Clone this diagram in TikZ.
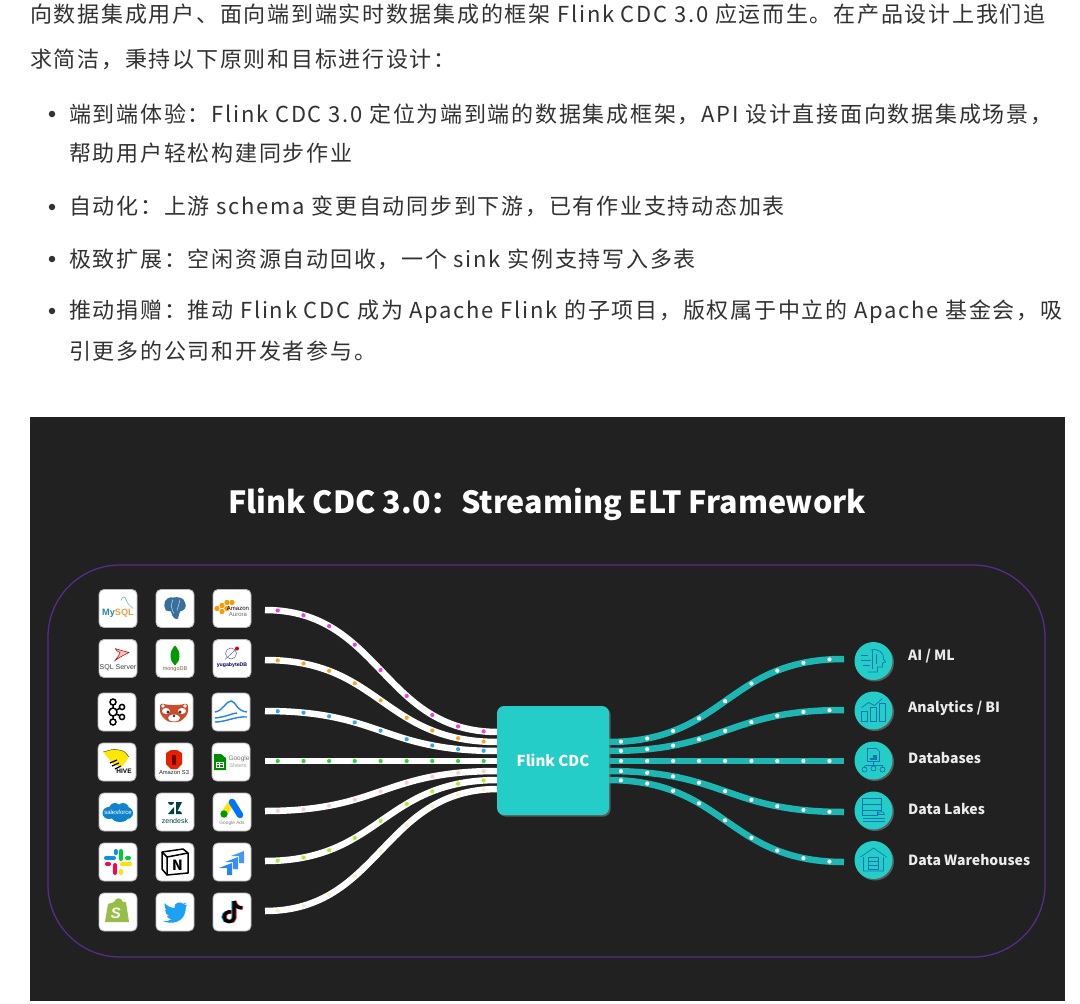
\documentclass[tikz,border=0pt]{standalone}
\usepackage{fontspec}
\setmainfont{Noto Sans CJK SC}
\newfontfamily\bodyfont[LetterSpace=7.9]{Noto Sans CJK SC}
\newfontfamily\titlefont{Noto Sans CJK SC}
\newfontfamily\logofont{Liberation Sans}
\usetikzlibrary{arrows.meta, positioning, shapes.geometric, calc, shadows}
\definecolor{panelbg}{RGB}{33,33,33}
\definecolor{ringcolor}{RGB}{86,44,138}
\definecolor{flinkcolor}{RGB}{36,205,200}
\definecolor{sinkcolor}{RGB}{30,182,178}
\definecolor{iconcolor}{RGB}{18,118,178}
\definecolor{bodycolor}{RGB}{50,50,50}
\definecolor{jirablue}{RGB}{38,132,245}
\definecolor{shopgreen}{RGB}{149,191,71}
\definecolor{birdblue}{RGB}{29,161,242}
\definecolor{pandared}{RGB}{205,75,45}
\definecolor{wavecolor}{RGB}{30,130,240}
\newcommand{\fsz}[1]{\fontsize{#1}{#1}\selectfont}
\tikzset{
  bodytext/.style = {anchor=west, inner sep=0pt, text=bodycolor, font=\bodyfont\fsz{22}},
  bullet/.style   = {circle, fill=bodycolor, inner sep=0pt, minimum size=6.5pt},
  logo/.style     = {draw=gray!55, line width=.9pt, fill=white, rounded corners=5pt,
                     minimum size=38pt, inner sep=0pt},
  logotext/.style = {inner sep=0pt, font=\logofont\fsz{5}, text=black!70},
  stream/.style   = {draw=white, line width=6.5pt},
  sink/.style     = {draw=sinkcolor, line width=6.5pt},
  flowdot/.style  = {circle, inner sep=0pt, minimum size=4.2pt},
  target/.style   = {circle, fill=flinkcolor, minimum size=38pt, inner sep=0pt,
                     drop shadow={shadow xshift=1.5pt, shadow yshift=-1.5pt, opacity=.6}},
  targetlbl/.style= {anchor=west, inner sep=0pt, text=white!92!black, font=\titlefont\bfseries\fsz{14}},
  icon/.style     = {draw=iconcolor, line width=.7pt},
}
\begin{document}
\begin{tikzpicture}[x=1pt, y=-1pt]
  \useasboundingbox (0,0) rectangle (1080,1004);
  \fill[white] (0,0) rectangle (1080,1004);

  % article text
  \node[bodytext] (line1) at (30,14.5) {向数据集成用户、面向端到端实时数据集成的框架 Flink CDC 3.0 应运而生。在产品设计上我们追};
  \node[bodytext] (line2) at (30,59.5) {求简洁，秉持以下原则和目标进行设计：};
  \node[bodytext] (line3) at (69,114.5) {端到端体验：Flink CDC 3.0 定位为端到端的数据集成框架，API 设计直接面向数据集成场景，};
  \node[bodytext] (line4) at (69,153.5) {帮助用户轻松构建同步作业};
  \node[bodytext] (line5) at (69,206.5) {自动化：上游 schema 变更自动同步到下游，已有作业支持动态加表};
  \node[bodytext] (line6) at (69,259.5) {极致扩展：空闲资源自动回收，一个 sink 实例支持写入多表};
  \node[bodytext] (line7) at (69,311.5) {推动捐赠：推动 Flink CDC 成为 Apache Flink 的子项目，版权属于中立的 Apache 基金会，吸};
  \node[bodytext] (line8) at (69,351.5) {引更多的公司和开发者参与。};
  \foreach \i/\y in {1/114, 2/207, 3/259, 4/311} {
    \node[bullet] (bullet\i) at (52,\y) {};
  }

  % dark panel
  \fill[panelbg] (30,417) rectangle (1065,1001);
  \node[inner sep=0pt, text=white, font=\titlefont\bfseries\fsz{30.5}] (title) at (547,504.5) {Flink CDC 3.0：Streaming ELT Framework};
  \draw[ringcolor, line width=1.3pt, rounded corners=72pt] (48,565) rectangle (1045,957);

  % streams into the box
  \foreach \i/\ys/\ye/\col in {1/610/732/{rgb,255:red,240;green,58;blue,232},
                               2/660/742/{rgb,255:red,245;green,166;blue,35},
                               3/711/751/{rgb,255:red,47;green,168;blue,240},
                               4/761/761/{rgb,255:red,47;green,213;blue,58},
                               5/811/771/{rgb,255:red,252;green,205;blue,208},
                               6/861/780/{rgb,255:red,168;green,240;blue,48},
                               7/911/789/{rgb,255:red,253;green,236;blue,200}} {
    \coordinate (src\i) at (265,\ys);
    \coordinate (in\i) at (498,\ye);
    \draw[stream] (src\i) .. controls +(116,0) and +(-116,0) .. (in\i)
      \foreach \p [count=\k] in {.038,.125,.228,.352,.495,.64,.765,.87,.957} {
        node[flowdot, fill=\col, pos=\p, name=dot\i-\k] {}
      };
  }

  % streams out of the box
  \foreach \i/\ys/\ye in {1/742/659, 2/751/710, 3/761/761, 4/771/812, 5/780/862} {
    \coordinate (out\i) at (608,\ys);
    \coordinate (dst\i) at (844,\ye);
    \draw[sink] (out\i) .. controls +(118,0) and +(-118,0) .. (dst\i)
      \foreach \p [count=\k] in {.038,.125,.228,.352,.495,.64,.765,.87,.957} {
        node[flowdot, fill=white, pos=\p, name=sdot\i-\k] {}
      };
  }

  \node[fill=flinkcolor, rounded corners=7pt, minimum width=112pt, minimum height=109pt, inner sep=0pt,
        text=white, font=\titlefont\bfseries\fsz{15},
        drop shadow={shadow xshift=1.5pt, shadow yshift=-1.5pt, opacity=.6}] (flink) at (553,760.5) {Flink CDC};

  % source logos
  \node[logo] (mysql) at (118,608.5) {};
  \node[logo] (pgsql) at (175,608.5) {};
  \node[logo] (aurora) at (232,608.5) {};
  \node[logo] (sqlserver) at (118,658.5) {};
  \node[logo] (mongo) at (175,658.5) {};
  \node[logo] (yuga) at (232,658.5) {};
  \node[logo] (kafka) at (117,712) {};
  \node[logo] (panda) at (174,712) {};
  \node[logo] (wave) at (231,712) {};
  \node[logo] (hive) at (117,762) {};
  \node[logo] (sthree) at (174,762) {};
  \node[logo] (sheets) at (231,762) {};
  \node[logo] (sforce) at (118,812) {};
  \node[logo] (zendesk) at (175,812) {};
  \node[logo] (gads) at (232,812) {};
  \node[logo] (slack) at (118,862) {};
  \node[logo] (notion) at (175,862) {};
  \node[logo] (jira) at (232,862) {};
  \node[logo] (shopify) at (118,912) {};
  \node[logo] (twitter) at (175,912) {};
  \node[logo] (tiktok) at (232,912) {};

  % mysql
  \begin{scope}[shift={(mysql.center)}]
    \draw[cyan!50!gray, line width=.5pt] (3,-8) .. controls (4,-12) and (7,-13) .. (8,-9) .. controls (9,-5) and (12,-3) .. (15,0);
    \node[inner sep=0pt, font=\logofont\bfseries\fsz{9.2}] (mysqltxt) at (0,5) {\textcolor[RGB]{40,130,175}{My}\textcolor[RGB]{230,160,70}{SQL}};
  \end{scope}
  % postgres
  \begin{scope}[shift={(pgsql.center)}]
    \fill[fill={rgb,255:red,60;green,110;blue,155}] (-2,-11) .. controls (-10,-12) and (-13,-5) .. (-9,2) -- (-4,3) .. controls (-3,9) and (1,12) .. (3,10) .. controls (4,7) and (4,5) .. (5,3) .. controls (10,2) and (12,-2) .. (10,-6) .. controls (9,-11) and (3,-12) .. (-2,-11);
    \draw[white!70!cyan, line width=.5pt] (-2,-9) .. controls (-5,-3) and (-3,2) .. (-1,5) (5,-9) .. controls (4,-4) and (3,-2) .. (2,2);
  \end{scope}
  % aurora
  \begin{scope}[shift={(aurora.center)}]
    \foreach \hx/\hy in {-5/-6, 0/-6, -10/-3, -15/0, -10/3, -5/0} {
      \fill[orange!80!yellow] (\hx,\hy) +(-2.7,0) -- +(-1.35,-2.4) -- +(1.35,-2.4) -- +(2.7,0) -- +(1.35,2.4) -- +(-1.35,2.4) -- cycle;
    }
    \node[logotext, font=\logofont\fsz{6}, text=black] (aurora1) at (6,0) {Amazon};
    \node[logotext, font=\logofont\fsz{6}, text=black!60] (aurora2) at (6,5.5) {Aurora};
  \end{scope}
  % sql server
  \begin{scope}[shift={(sqlserver.center)}]
    \draw[red!70!black, line width=.5pt, fill=red!25] (-3,-10) .. controls (3,-8) and (8,-7) .. (11,-6) .. controls (5,-3) and (1,-1) .. (-3,2) .. controls (0,-2) and (2,-4) .. (2,-6) .. controls (0,-7) and (-2,-8) .. (-3,-10);
    \node[logotext, font=\logofont\fsz{7}, text=black!75] (sqltxt) at (0,9) {SQL Server};
  \end{scope}
  % mongodb
  \begin{scope}[shift={(mongo.center)}]
    \fill[green!60!black] (0,-13) .. controls (-7,-6) and (-5,3) .. (0,7) .. controls (5,3) and (7,-6) .. (0,-13);
    \node[logotext, font=\logofont\fsz{5.5}, text=brown!70!black] (mongotxt) at (0,11) {mongoDB};
  \end{scope}
  % yugabyte
  \begin{scope}[shift={(yuga.center)}]
    \draw[blue!30!gray, line width=.5pt] (-1,-5) circle (5.5pt);
    \draw[blue!30!gray, line width=.5pt] (-7,1) -- (5,-10);
    \fill[red!85!black] (5,-10) circle (2pt);
    \node[logotext, font=\logofont\bfseries\fsz{5.2}, text=blue!40!black] (yugatxt) at (0,7) {yugabyteDB};
  \end{scope}
  % kafka
  \begin{scope}[shift={(kafka.center)}]
    \draw[black, line width=1.5pt] (-4,-10) -- (-4,10) (-4,0) -- (5,-5) (-4,0) -- (5,5);
    \foreach \cx/\cy/\cr in {-4/-10/3, -4/0/4, -4/10/3, 5/-5/2.6, 5/5/2.6} {
      \draw[black, line width=1.5pt, fill=white] (\cx,\cy) circle (\cr pt);
    }
  \end{scope}
  % red panda
  \begin{scope}[shift={(panda.center)}]
    \fill[pandared, rounded corners=3pt] (-14,-9) -- (-6,-7) -- (6,-7) -- (14,-9) -- (14,2) -- (6,10) -- (-6,10) -- (-14,2) -- cycle;
    \fill[white] (-8,-1) ellipse (4pt and 3pt) (8,-1) ellipse (4pt and 3pt) (0,6) ellipse (6pt and 3.5pt) (-11,-6) circle (1.8pt) (11,-6) circle (1.8pt);
    \fill[black!80] (-6,0) circle (1.6pt) (6,0) circle (1.6pt) (0,4) circle (1.4pt);
  \end{scope}
  % blue wave
  \begin{scope}[shift={(wave.center)}]
    \draw[wavecolor, line width=1.4pt] (-16,0) .. controls (-8,-1) and (-5,-11) .. (0,-11) .. controls (5,-11) and (5,-1) .. (16,0);
    \draw[wavecolor, line width=1.4pt] (-16,6) .. controls (-5,5) and (2,1) .. (6,1) (-16,10) .. controls (-5,10) and (5,4) .. (16,5);
  \end{scope}
  % hive
  \begin{scope}[shift={(hive.center)}]
    \fill[yellow!90!orange, rounded corners=2.5pt] (-14,-10) -- (-3,-13) -- (7,-11) -- (12,-5) -- (9,-1) -- (5,5) -- (-3,3) -- (-8,-3) -- cycle;
    \draw[black!80, line width=.4pt, rounded corners=2.5pt] (-14,-10) -- (-3,-13) -- (7,-11) -- (12,-5);
    \draw[black, line width=1.2pt] (-7,1) -- (0,-2) (-5,4) -- (2,1) (-2,7) -- (4,4);
    \node[logotext, font=\logofont\bfseries\fsz{6.5}, text=black] (hivetxt) at (7,9) {HIVE};
  \end{scope}
  % amazon s3
  \begin{scope}[shift={(sthree.center)}]
    \fill[red!70!orange!90!black] (-8,-9) -- (-3,-12) -- (3,-12) -- (8,-9) -- (8,2) -- (3,7) -- (-3,7) -- (-8,2) -- cycle;
    \fill[red!45!black] (-2,-7) rectangle (2,3);
    \node[logotext, font=\logofont\fsz{5.8}, text=black!85] (sthreetxt) at (0,10.5) {Amazon S3};
  \end{scope}
  % google sheets
  \begin{scope}[shift={(sheets.center)}]
    \fill[green!55!black] (-17,-8) -- (-10,-8) -- (-5,-4) -- (-5,8) -- (-17,8) -- cycle;
    \draw[white, line width=.5pt] (-14.5,0) rectangle (-8,5) (-11.5,0) -- (-11.5,5) (-14.5,2.5) -- (-8,2.5);
    \node[logotext, font=\logofont\fsz{6.5}, text=black!55] (sheets1) at (8,-3) {Google};
    \node[logotext, font=\logofont\fsz{5.5}, text=black!35] (sheets2) at (7,4) {Sheets};
  \end{scope}
  % salesforce
  \begin{scope}[shift={(sforce.center)}]
    \fill[cyan!65!blue] (-9,1) ellipse (6.5pt and 6pt) (-3,-3) circle (6pt) (5,-3) circle (6pt) (9,1) circle (6pt) (2,4) ellipse (9pt and 6pt);
    \node[logotext, font=\logofont\fsz{6}, text=white] (sforcetxt) at (0,0) {salesforce};
  \end{scope}
  % zendesk
  \begin{scope}[shift={(zendesk.center)}]
    \fill[teal!50!black] (-7,-10) -- (-1,-10) .. controls (-1,-6) and (-7,-6) .. (-7,-10) -- cycle (1,-10) -- (7,-10) -- (1,2) -- cycle (-7,2) -- (-1,2) -- (-1,-5) -- cycle (1,2) -- (7,2) .. controls (7,-2) and (1,-2) .. (1,2) -- cycle;
    \node[logotext, font=\logofont\fsz{7}, text=teal!50!black] (zentxt) at (0,8.5) {zendesk};
  \end{scope}
  % google ads
  \begin{scope}[shift={(gads.center)}]
    \draw[yellow!85!orange, line width=6.5pt, line cap=round] (-8,2) -- (0,-10);
    \draw[blue!55!cyan, line width=6.5pt, line cap=round] (0,-10) -- (8,3);
    \fill[green!60!black] (-8,2) circle (3.7pt);
    \node[logotext, font=\logofont\fsz{4.8}, text=black!50] (gadstxt) at (0,11) {Google Ads};
  \end{scope}
  % slack
  \begin{scope}[shift={(slack.center)}, line width=4pt, line cap=round]
    \draw[cyan!80!blue] (-2.5,-11) -- (-2.5,-9) (-4,-4) -- (-12,-4);
    \draw[green!60!teal] (3,-11) -- (3,-3) (9,-4) -- (11,-4);
    \draw[yellow!85!orange] (4,2) -- (12,2) (3,9) -- (3,11);
    \draw[red!70!magenta] (-3,3) -- (-3,11) (-9,2) -- (-11,2);
  \end{scope}
  % notion
  \begin{scope}[shift={(notion.center)}]
    \draw[black, line width=1.5pt, fill=white, line join=round] (-13,-10) -- (8,-13) -- (13,-9) -- (13,11) -- (-8,13) -- (-13,7) -- cycle;
    \draw[black, line width=1.5pt] (-13,-10) -- (-8,-5) -- (13,-9) (-8,-5) -- (-8,13);
    \node[inner sep=0pt, font=\bfseries\fsz{14}, text=black] (notiontxt) at (2.5,3.5) {N};
  \end{scope}
  % jira
  \begin{scope}[shift={(jira.center)}]
    \foreach \dx/\dy/\shade in {6/-6/85, 0/0/92, -6/6/100} {
      \fill[jirablue!\shade!white] (\dx,\dy) ++(-7,0) -- ++(13,-5) -- ++(0,12) -- ++(-5,0) -- ++(0,-7) -- cycle;
    }
  \end{scope}
  % shopify
  \begin{scope}[shift={(shopify.center)}]
    \fill[shopgreen] (-10,-8) -- (-4,-10) .. controls (-2,-15) and (3,-15) .. (5,-10) -- (8,-10) -- (11,10) -- (-13,10) -- cycle;
    \node[inner sep=0pt, font=\logofont\bfseries\itshape\fsz{15}, text=white] (shoptxt) at (-2,1) {S};
  \end{scope}
  % twitter
  \begin{scope}[shift={(twitter.center)}]
    \fill[birdblue] (12,-7.4) -- (9,-6.7) -- (11.3,-9.4) -- (8.2,-8.2) .. controls (6,-10.5) and (-1,-10.5) .. (-.3,-4) .. controls (-4,-4) and (-8,-6) .. (-10.3,-9) .. controls (-11,-6) and (-10,-3) .. (-8.5,-1.5) -- (-10,-2) .. controls (-10,1) and (-8,3) .. (-6,3.8) -- (-8.2,4) .. controls (-7,6) and (-5,7.2) .. (-3.6,7.4) .. controls (-6,9) and (-9,9.3) .. (-12,9) .. controls (-4.5,13) and (11,11) .. (10.8,-4.8) -- cycle;
  \end{scope}
  % tiktok
  \begin{scope}[shift={(tiktok.center)}, line width=3.2pt]
    \foreach \nx/\ncol in {-1/cyan, 1/red!85!pink, 0/black} {
      \draw[\ncol] (\nx+2,-11) -- (\nx+2,6) .. controls (\nx+2,11) and (\nx-8,11) .. (\nx-8,5) .. controls (\nx-8,1) and (\nx-3,-1) .. (\nx-1,0) (\nx+2,-11) .. controls (\nx+2,-7) and (\nx+6,-4) .. (\nx+10,-4);
    }
  \end{scope}

  % targets
  \foreach \i/\y/\lbl/\ly in {1/661/{AI / ML}/656, 2/710.5/{Analytics / BI}/708, 3/760.5/Databases/758, 4/810.5/Data Lakes/809, 5/860/Data Warehouses/860} {
    \node[target] (target\i) at (873.5,\y) {};
    \node[targetlbl] (label\i) at (908,\ly) {\lbl};
  }
  \begin{scope}[shift={(target1.center)}]
    \draw[icon] (-3,-11) .. controls (5,-13) and (11,-8) .. (10,-2) -- (12,1) -- (9,2) -- (9,6) -- (4,6) -- (4,11) -- (-6,11);
    \draw[icon] (-13,-6) -- (-6,-6) (-13,-1) -- (-3,-1) (-11,4) -- (-4,4) (-1,-11) -- (-1,8) (3,-7) -- (3,3);
  \end{scope}
  \begin{scope}[shift={(target2.center)}]
    \draw[icon] (-12,1) rectangle (-6,11) (-3,-3) rectangle (3,11) (6,-7) rectangle (12,11);
    \draw[icon] (-12,-3) -- (-5,-8) -- (1,-5) -- (9,-12);
  \end{scope}
  \begin{scope}[shift={(target3.center)}]
    \draw[icon] (-6,-12) -- (3,-12) -- (6,-9) -- (6,1) -- (-6,1) -- cycle;
    \draw[icon, fill=iconcolor] (-3,-2) rectangle (-1,-1) (0,-5) rectangle (3,-1);
    \draw[icon] (0,1) -- (0,4) (-9,5) -- (9,5) (-9,5) -- (-9,7) (9,5) -- (9,7);
    \draw[icon] (-9,9) circle (2.5pt) (0,8) circle (2.5pt) (9,9) circle (2.5pt);
  \end{scope}
  \begin{scope}[shift={(target4.center)}]
    \draw[icon] (-11,-12) rectangle (8,-6) (-11,-6) rectangle (8,0) (-11,0) rectangle (4,5);
    \draw[icon] (4,4) .. controls (5,0) and (10,0) .. (11,4) -- cycle;
    \draw[icon] (-11,8) -- (11,8) (-11,11) -- (11,11);
  \end{scope}
  \begin{scope}[shift={(target5.center)}]
    \draw[icon] (-13,-3) -- (0,-12) -- (13,-3) (-10,-3) -- (-10,11) -- (10,11) -- (10,-3);
    \draw[icon] (-5,-3) rectangle (5,9) (-5,1) -- (5,1) (-5,5) -- (5,5);
  \end{scope}
\end{tikzpicture}
\end{document}
